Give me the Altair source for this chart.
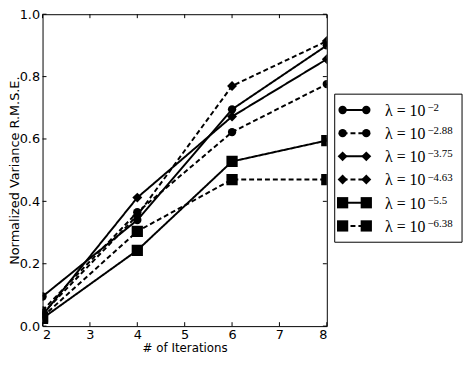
import altair as alt
import pandas as pd

# ---- data ----
iterations = [2, 4, 6, 8]
exponents = ["−2", "−2.88", "−3.75", "−4.63", "−5.5", "−6.38"]
shapes = ["circle", "circle", "diamond", "diamond", "square", "square"]
dashes = ["solid", "dashed", "solid", "dashed", "solid", "dashed"]
rmse_m2 = [0.095, 0.340, 0.695, 0.900]
rmse_m288 = [0.050, 0.365, 0.622, 0.776]
rmse_m375 = [0.035, 0.412, 0.672, 0.856]
rmse_m463 = [0.040, 0.355, 0.770, 0.914]
rmse_m55 = [0.025, 0.243, 0.528, 0.595]
rmse_m638 = [0.030, 0.304, 0.470, 0.470]
all_rmse = [rmse_m2, rmse_m288, rmse_m375, rmse_m463, rmse_m55, rmse_m638]
x_ticks = [2, 3, 4, 5, 6, 7, 8]
y_ticks = [0.0, 0.2, 0.4, 0.6, 0.8, 1.0]

rows = []
for i, (e, s, d, vals) in enumerate(zip(exponents, shapes, dashes, all_rmse)):
    for x, y in zip(iterations, vals):
        rows.append({"series": e, "shape": s, "dash": d, "x": x, "y": y, "row": i})
df = pd.DataFrame(rows)
leg_df = pd.DataFrame({"series": exponents, "shape": shapes, "dash": dashes,
                       "row": list(range(len(exponents)))})

W, H = 288, 316
xs = alt.Scale(domain=[2, 8], nice=False, zero=False)
ys = alt.Scale(domain=[0, 1], nice=False, zero=False)

dash_enc = alt.StrokeDash("dash:N", scale=alt.Scale(domain=["solid", "dashed"], range=[[1, 0], [5, 3]]), legend=None)
shape_enc = alt.Shape("shape:N", scale=alt.Scale(domain=["circle", "diamond", "square"], range=["circle", "diamond", "square"]), legend=None)
size_enc = alt.Size("shape:O", scale=alt.Scale(domain=["circle", "diamond", "square"], range=[72, 130, 72]), legend=None)

x_axis = alt.Axis(values=x_ticks, format="d", title="# of Iterations",
                  grid=False, ticks=False, domain=False, labelPadding=3, titlePadding=1)
y_axis = alt.Axis(values=y_ticks, format=".1f", title="Normalized Variance R.M.S.E.",
                  grid=False, ticks=False, domain=False, labelPadding=3,
                  titleX=-28, titleY=H / 2, titleBaseline="middle", titleAngle=270)

lines = alt.Chart(df).mark_line(strokeWidth=2, color="black", clip=True).encode(
    x=alt.X("x:Q", scale=xs, axis=x_axis), y=alt.Y("y:Q", scale=ys, axis=y_axis),
    detail="series:N", strokeDash=dash_enc)
points = alt.Chart(df).mark_point(filled=True, color="black", opacity=1, clip=True).encode(
    x=alt.X("x:Q", scale=xs, axis=x_axis), y=alt.Y("y:Q", scale=ys, axis=None),
    shape=shape_enc, size=size_enc)

xt = pd.DataFrame({"t": x_ticks})
yt = pd.DataFrame({"t": y_ticks})
tick_b = alt.Chart(xt).mark_rule(color="black").encode(
    x=alt.X("t:Q", scale=xs, axis=x_axis), y=alt.value(H - 4), y2=alt.value(H))
tick_t = alt.Chart(xt).mark_rule(color="black").encode(
    x=alt.X("t:Q", scale=xs, axis=x_axis), y=alt.value(0), y2=alt.value(4))
tick_l = alt.Chart(yt).mark_rule(color="black").encode(
    y=alt.Y("t:Q", scale=ys, axis=None), x=alt.value(0), x2=alt.value(4))
tick_r = alt.Chart(yt).mark_rule(color="black").encode(
    y=alt.Y("t:Q", scale=ys, axis=None), x=alt.value(W - 4), x2=alt.value(W))

# ---- legend ----
ly = alt.Y("row:O", scale=alt.Scale(type="point", domain=list(range(6)), range=[97, 214.5], padding=0), axis=None)
box = alt.Chart(pd.DataFrame({"a": [0]})).mark_rect(fill="white", stroke="black", strokeWidth=1).encode(
    x=alt.value(296), x2=alt.value(425), y=alt.value(81), y2=alt.value(231))
leg_line = alt.Chart(leg_df).mark_rule(strokeWidth=2, color="black").encode(
    x=alt.value(304), x2=alt.value(328), y=ly, strokeDash=dash_enc)
leg_p1 = alt.Chart(leg_df).mark_point(filled=True, color="black", opacity=1).encode(
    x=alt.value(304), y=ly, shape=shape_enc, size=size_enc)
leg_p2 = alt.Chart(leg_df).mark_point(filled=True, color="black", opacity=1).encode(
    x=alt.value(328), y=ly, shape=shape_enc, size=size_enc)
leg_base = alt.Chart(leg_df).mark_text(align="left", baseline="alphabetic", dy=6,
                                       font="Liberation Serif", fontSize=16, color="black").encode(
    x=alt.value(347), y=ly, text=alt.value("λ = 10"))
leg_exp = alt.Chart(leg_df).mark_text(align="left", baseline="alphabetic", dy=1,
                                      font="Liberation Serif", fontSize=11, color="black").encode(
    x=alt.value(390), y=ly, text="series:N")

chart = alt.layer(lines, points, tick_b, tick_t, tick_l, tick_r,
                  box, leg_line, leg_p1, leg_p2, leg_base, leg_exp).resolve_scale(
    y="independent").properties(
    width=W, height=H,
    padding={"left": 35, "top": 4, "right": 140, "bottom": 30},
    autosize=alt.AutoSizeParams(type="none"),
).configure_view(stroke="black", strokeWidth=1).configure_axis(
    labelFont="DejaVu Sans", titleFont="DejaVu Sans", labelFontSize=13, titleFontSize=12,
    labelColor="black", titleColor="black", titleFontWeight="normal"
).configure_axisY(titleFontSize=13)

chart.save("out.html", embed_options={"renderer": "svg", "actions": False})
